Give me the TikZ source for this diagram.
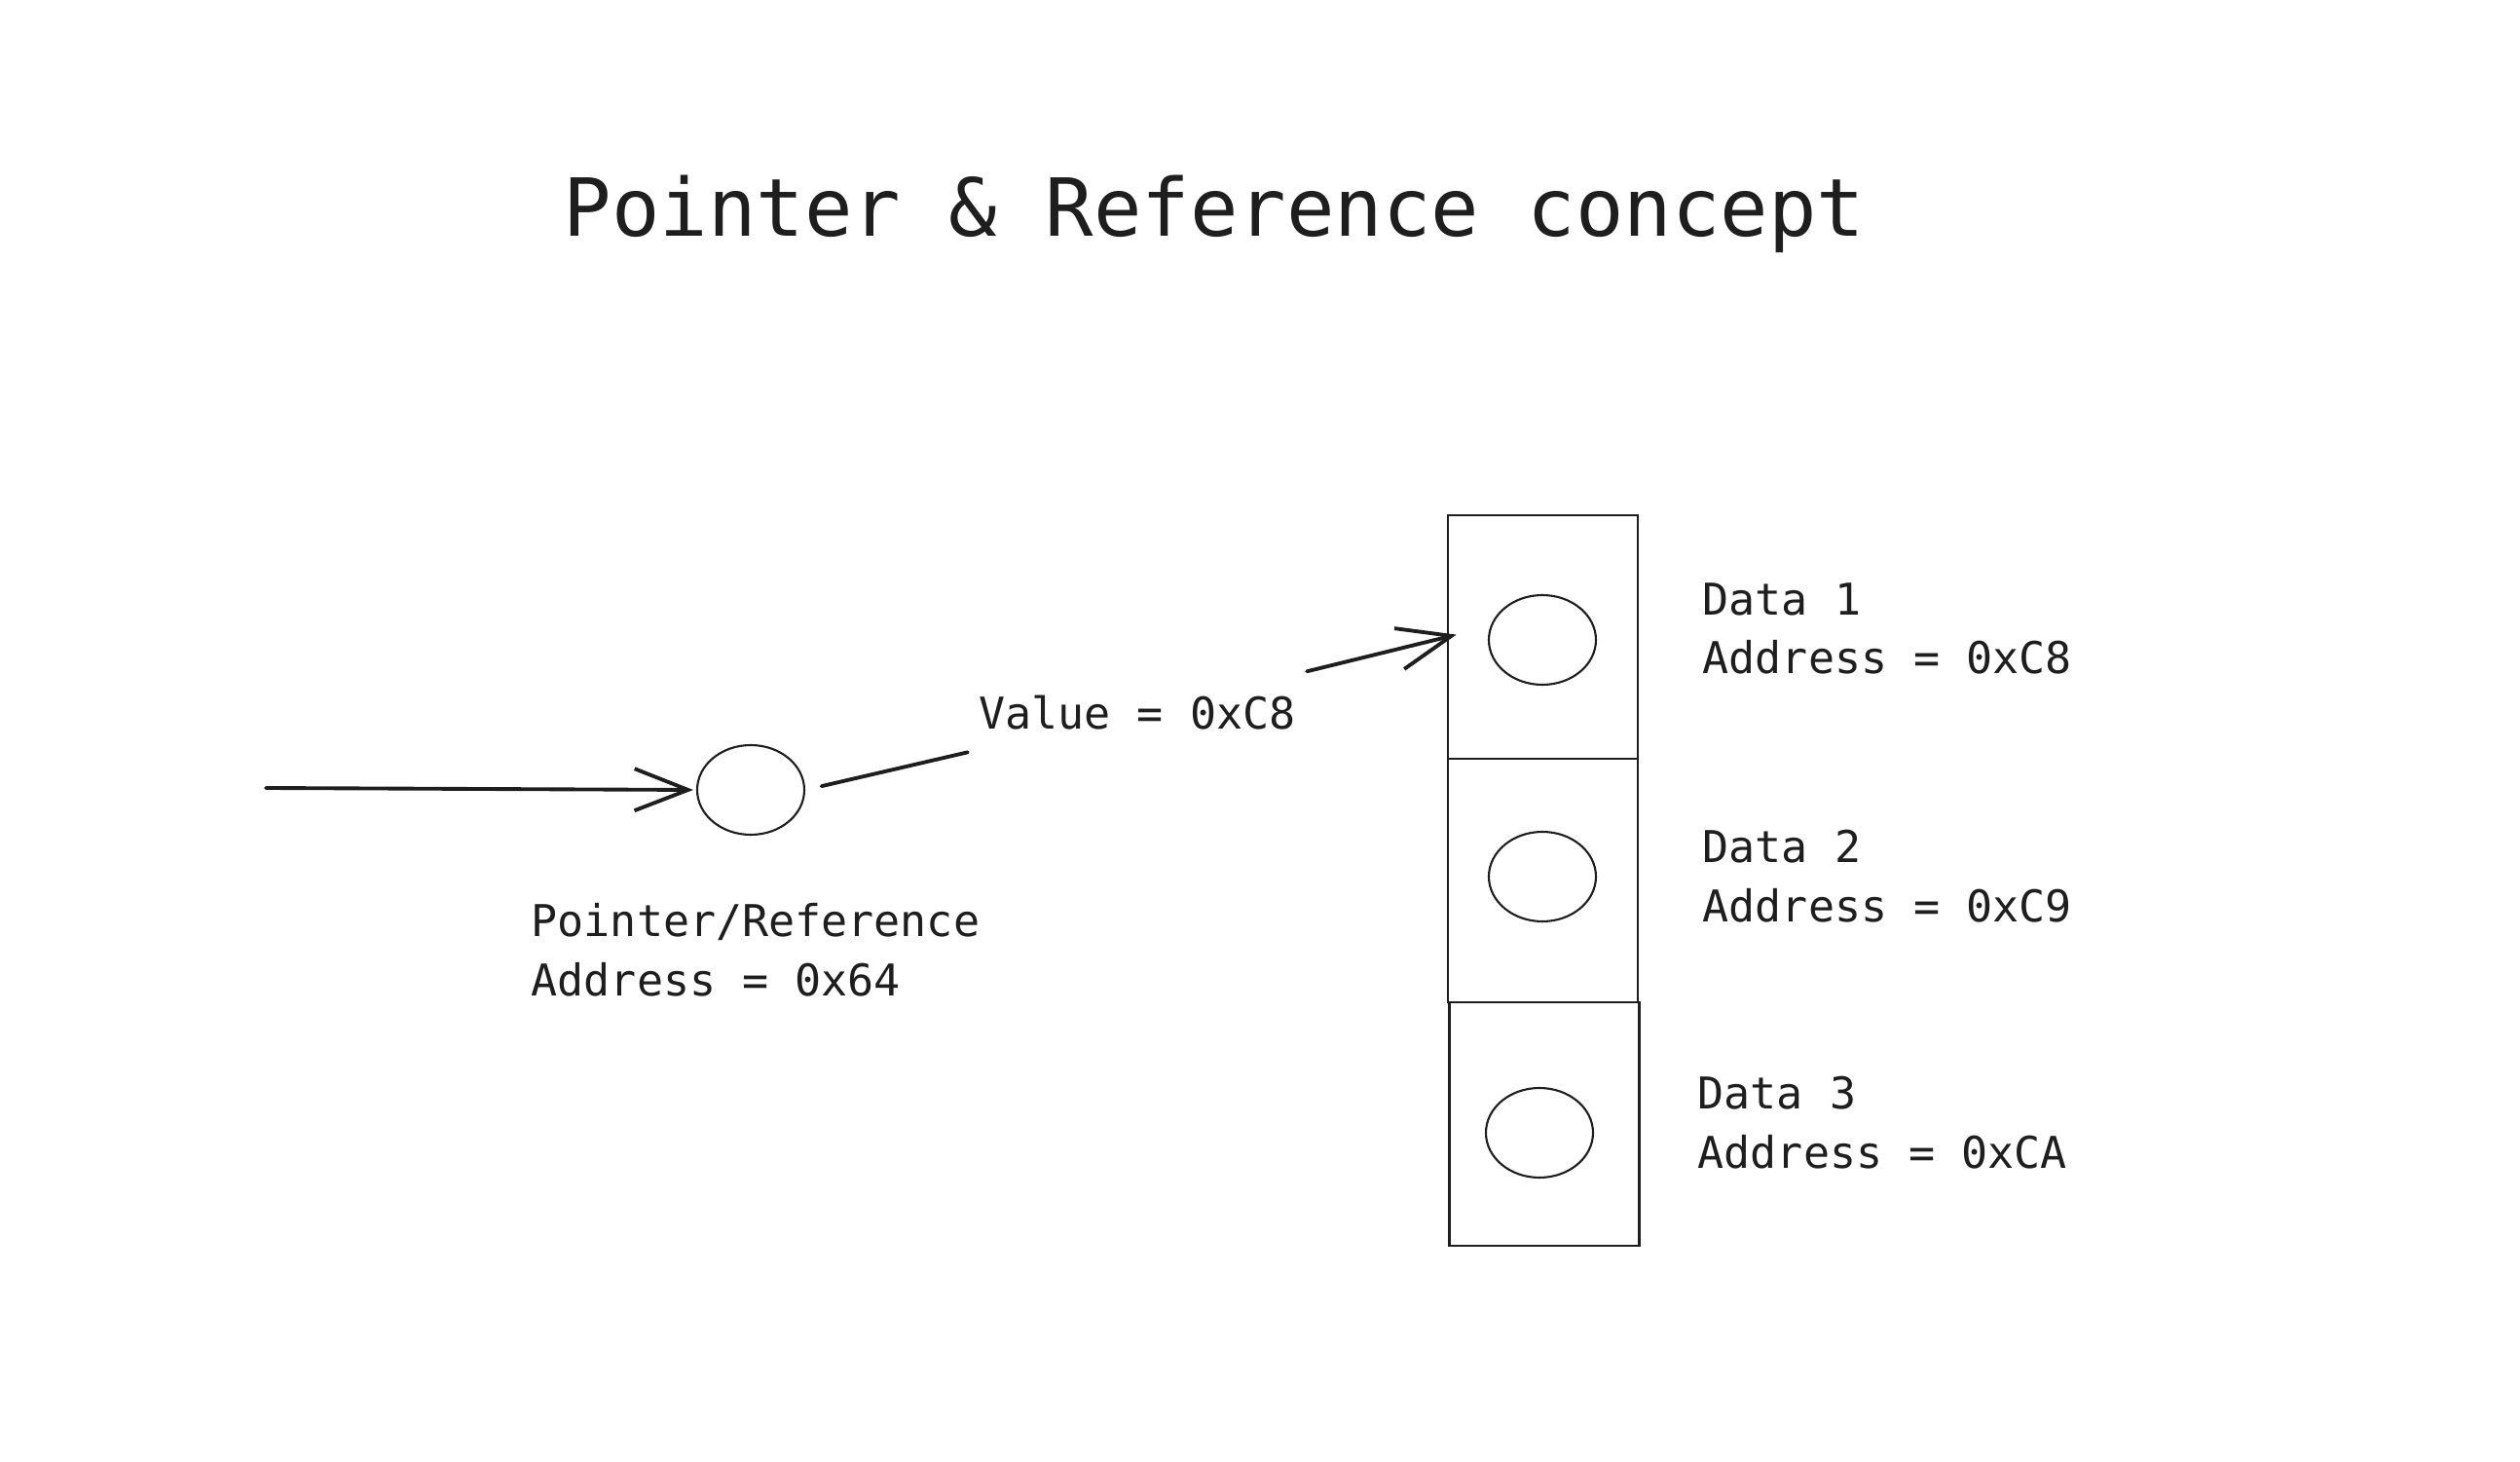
\documentclass[tikz,border=0pt]{standalone}
\usepackage{fontspec}
\setmonofont{DejaVu Sans Mono}
\usetikzlibrary{arrows.meta,shapes.geometric}
\definecolor{ink}{HTML}{1E1E1E}
\tikzset{
  cell/.style={draw=ink, line width=0.6pt, minimum width=1.95cm, minimum height=2.5cm, inner sep=0pt},
  dot/.style={draw=ink, line width=0.6pt, ellipse, minimum width=1.10cm, minimum height=0.92cm, inner sep=0pt},
  note/.style={text=ink, font=\ttfamily\fontsize{12.8}{17.3}\selectfont, align=left, anchor=west, inner sep=0pt},
  link/.style={draw=ink, line width=1.1pt, line cap=round},
  tip/.style={-{Straight Barb[length=5.5mm, width=4.3mm, line width=1.1pt]}}
}
\begin{document}
\begin{tikzpicture}
  \useasboundingbox[fill=white] (0,0) rectangle (25.88,15);

  % Title
  \node[text=ink, font=\ttfamily\fontsize{23.4}{28}\selectfont] (title) at (12.47,12.80) {Pointer \& Reference concept};

  % The pointer
  \coordinate (start) at (2.73,6.91);
  \node[dot] (ptr) at (7.71,6.89) {};
  \node[note] (ptrtxt) at (5.45,5.245) {Pointer/Reference\\Address = 0x64};

  % The memory cells
  \def\cx{15.845}
  \node[cell] (cell1) at (\cx,8.46) {};
  \node[cell] (cell2) at (\cx,5.96) {};
  \node[cell] (cell3) at (15.86,3.46) {};

  \node[dot] (d1) at (15.84,8.43) {};
  \node[dot] (d2) at (15.84,6.00) {};
  \node[dot] (d3) at (15.81,3.37) {};

  \node[note] (txt1) at (17.48,8.545) {Data 1\\Address = 0xC8};
  \node[note] (txt2) at (17.48,6.005) {Data 2\\Address = 0xC9};
  \node[note] (txt3) at (17.43,3.475) {Data 3\\Address = 0xCA};

  % Value held by the pointer
  \node[text=ink, font=\ttfamily\fontsize{12.8}{17.3}\selectfont, inner xsep=1.1mm, inner ysep=0pt, minimum height=0.9cm] (val) at (11.68,7.68) {Value = 0xC8};

  % Arrows
  \draw[link, tip, shorten >=0.03cm] (start) -- (ptr.west);
  \draw[link, shorten <=0.17cm] (ptr.east) -- (val);
  \draw[link, tip, shorten >=-0.1cm] (val) -- (cell1.west);

\end{tikzpicture}
\end{document}
